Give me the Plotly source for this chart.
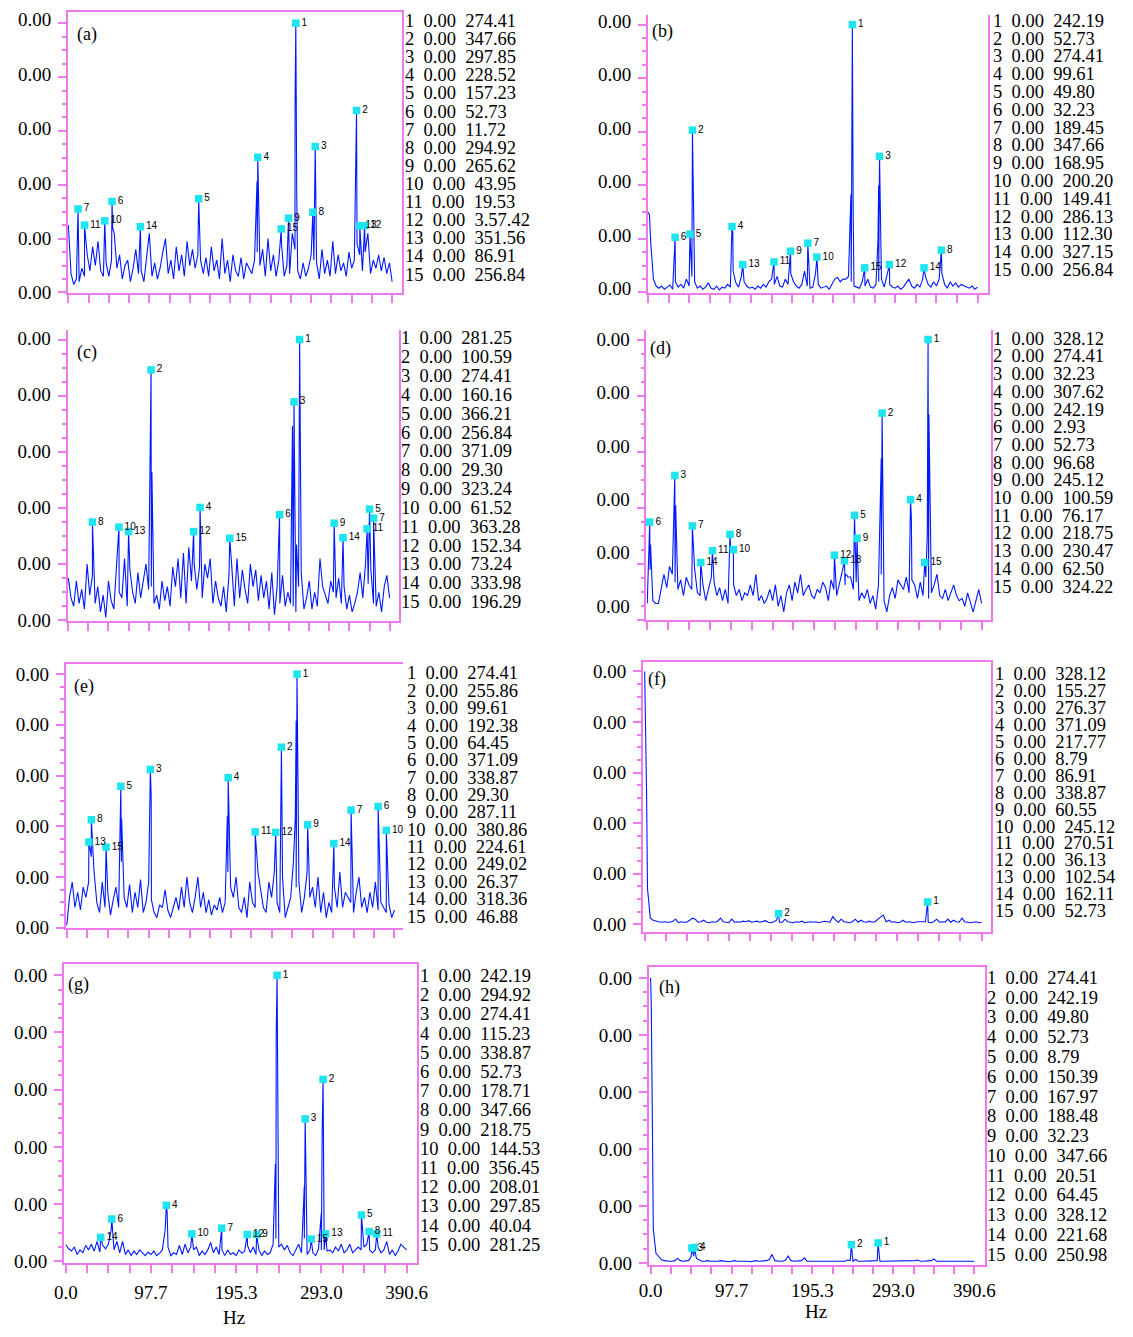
import numpy as np
import plotly.graph_objects as go

# ---------------- data ----------------
FMAX = 390.6
BIN_HZ = np.linspace(0.0, FMAX, 121)          # frequency bins of the noise floor
X_TICK_HZ = np.linspace(0.0, FMAX, 17)
X_TICK_TEXT = ["0.0", "", "", "", "97.7", "", "", "", "195.3", "", "", "", "293.0", "", "", "", "390.6"]
Y_TICK_TEXT = ["0.00"] * 6
TABLE_AMP = "0.00"

# noise floors (amplitude in hundredths of one y-tick step)
A_NOISE = [125,35,15,25,20,45,30,70,40,85, 50,95,40,30,55,30,60,110,45,70,
           25,50,60,20,45,80,35,40,20,60, 110,30,55,25,45,75,100,35,60,25,
           85,40,70,30,95,50,80,45,70,60, 35,65,30,85,40,60,25,100,35,60,
           20,70,40,30,65,25,55,45,35,60, 75,50,80,30,100,40,70,30,60,90,
           30,50,35,110,80,40,25,55,30,45, 70,60,55,25,80,35,60,30,95,35,
           70,40,55,30,75,45,60,90,70,40, 75,110,35,60,45,70,40,65,35,55, 20]
B_NOISE = [150,95,25,12,8,12,6,10,14,6, 20,10,15,8,25,12,30,20,8,12,
           6,10,18,8,6,12,5,10,8,15, 10,40,18,10,30,20,12,8,10,6,
           12,8,15,10,20,25,15,30,12,10, 25,15,35,20,12,8,15,40,12,8,
           10,35,15,8,10,12,6,15,25,28, 20,25,25,30,20,12,10,8,20,12,
           25,10,8,15,20,25,10,35,15,10, 8,12,6,10,18,25,12,8,15,10,
           25,30,15,10,20,12,25,35,15,8, 20,12,18,10,15,12,10,8,12,6, 10]
C_NOISE = [75,40,25,70,30,55,20,100,45,80, 30,60,15,45,5,70,35,20,95,50,
           40,110,25,90,50,30,85,40,70,100, 55,60,30,45,20,70,35,60,25,95,
           60,110,40,120,30,130,70,100,55,95, 40,100,75,110,30,70,40,25,60,15,
           80,100,25,110,40,90,55,30,100,60, 90,35,80,40,70,20,85,10,60,30,
           80,25,50,30,25,15,60,85,20,40, 70,20,50,25,110,60,45,30,70,50,
           40,75,30,60,20,45,15,30,50,85, 40,100,65,90,30,25,50,15,60,80, 40]
D_NOISE = [30,90,35,30,30,55,82,58,96,82, 68,55,72,44,77,63,55,92,49,44,
           63,35,55,77,68,44,58,35,55,30, 120,63,44,55,35,49,44,63,44,82,
           35,44,30,39,55,35,63,25,44,15, 49,63,35,68,49,82,44,55,63,44,
           39,55,49,68,58,35,72,55,44,63, 87,63,77,77,55,68,35,49,39,55,
           30,44,20,63,82,35,15,44,58,39, 72,63,55,77,49,72,63,39,68,44,
           77,39,49,63,82,44,39,55,35,49, 63,44,35,39,25,49,30,15,35,55, 30]
E_NOISE = [5,60,90,40,70,35,80,60,90,140, 110,50,30,90,40,70,25,55,80,40,
           130,60,40,85,30,70,40,95,30,50, 90,55,30,20,45,40,75,35,20,40,
           60,35,80,40,100,50,30,60,100,40, 70,30,55,25,45,35,60,30,50,110,
           80,60,100,40,30,60,20,90,50,40, 110,70,40,30,90,60,110,50,30,100,
           20,40,60,130,80,90,30,60,110,60, 80,40,100,30,70,20,50,30,80,40,
           110,40,70,60,50,30,70,100,40,60, 30,70,40,90,35,50,40,30,45,20, 35]
F_NOISE = [500,70,12,8,6,5,4,5,4,4, 6,10,3,5,4,4,8,12,10,4,
           5,8,4,3,5,4,6,12,5,4, 3,10,4,5,4,6,5,7,4,5,
           6,4,5,7,4,3,5,8,4,4, 10,5,4,3,5,4,6,3,4,5,
           4,5,3,4,6,5,4,15,8,4, 10,5,4,3,5,10,4,8,5,4,
           6,4,5,10,14,18,5,8,4,5, 3,4,8,4,5,4,3,5,5,4,
           5,4,3,5,10,4,5,4,10,4, 8,5,4,12,5,4,3,4,5,3, 4]
G_NOISE = [29,22,18,25,12,20,15,28,20,30, 18,35,16,28,22,30,55,20,35,15,
           35,12,20,10,18,12,20,15,10,16, 12,18,10,14,20,55,25,10,15,12,
           28,12,30,15,25,20,25,10,18,12, 20,33,15,25,12,20,10,20,12,15,
           10,20,14,18,28,15,25,12,20,10, 18,12,15,30,40,25,30,20,28,15,
           10,20,30,15,40,12,20,15,10,22, 20,20,18,20,15,25,18,30,15,20,
           30,15,20,25,20,25,30,20,15,20, 25,15,20,35,12,20,10,18,30,25, 20]
H_NOISE = [500,60,17,12,6,4,3,3,3,4, 8,4,3,3,4,10,12,8,6,3,
           3,4,3,3,2,3,4,3,3,2, 3,4,3,3,4,3,3,2,3,4,
           3,3,3,4,6,15,4,3,3,3, 5,12,4,3,3,3,4,9,3,3,
           3,3,4,3,3,3,3,4,3,3, 3,3,3,5,4,3,6,3,3,3,
           3,3,3,3,4,3,3,3,3,3, 3,3,3,3,3,3,3,3,4,5,
           3,3,3,3,4,7,3,3,3,3, 3,3,3,3,3,3,4,3,3,3, 3]

# marked peaks (id, Hz, amplitude in y-tick steps)
A_PEAK_ID = list(range(1, 16))
A_PEAK_HZ = [274.41, 347.66, 297.85, 228.52, 157.23, 52.73, 11.72, 294.92, 265.62, 43.95, 19.53, 357.42, 351.56, 86.91, 256.84]
A_PEAK_AMP = [5.0, 3.38, 2.71, 2.51, 1.74, 1.69, 1.55, 1.49, 1.38, 1.33, 1.25, 1.24, 1.24, 1.22, 1.18]
B_PEAK_ID = list(range(1, 16))
B_PEAK_HZ = [242.19, 52.73, 274.41, 99.61, 49.80, 32.23, 189.45, 347.66, 168.95, 200.20, 149.41, 286.13, 112.30, 327.15, 256.84]
B_PEAK_AMP = [5.0, 3.03, 2.54, 1.23, 1.09, 1.03, 0.92, 0.79, 0.77, 0.66, 0.57, 0.52, 0.52, 0.46, 0.46]
C_PEAK_ID = list(range(1, 16))
C_PEAK_HZ = [281.25, 100.59, 274.41, 160.16, 366.21, 256.84, 371.09, 29.30, 323.24, 61.52, 363.28, 152.34, 73.24, 333.98, 196.29]
C_PEAK_AMP = [5.0, 4.46, 3.89, 2.01, 1.98, 1.88, 1.82, 1.75, 1.73, 1.66, 1.63, 1.58, 1.58, 1.47, 1.46]
D_PEAK_ID = list(range(1, 16))
D_PEAK_HZ = [328.12, 274.41, 32.23, 307.62, 242.19, 2.93, 52.73, 96.68, 245.12, 100.59, 76.17, 218.75, 230.47, 62.50, 324.22]
D_PEAK_AMP = [5.0, 3.69, 2.58, 2.15, 1.87, 1.75, 1.68, 1.53, 1.46, 1.26, 1.24, 1.16, 1.06, 1.03, 1.03]
E_PEAK_ID = list(range(1, 16))
E_PEAK_HZ = [274.41, 255.86, 99.61, 192.38, 64.45, 371.09, 338.87, 29.30, 287.11, 380.86, 224.61, 249.02, 26.37, 318.36, 46.88]
E_PEAK_AMP = [5.0, 3.56, 3.12, 2.96, 2.79, 2.39, 2.32, 2.13, 2.03, 1.92, 1.89, 1.88, 1.69, 1.66, 1.59]
F_PEAK_ID = [1, 2]
F_PEAK_HZ = [328.12, 155.27]
F_PEAK_AMP = [0.44, 0.21]
G_PEAK_ID = list(range(1, 16))
G_PEAK_HZ = [242.19, 294.92, 274.41, 115.23, 338.87, 52.73, 178.71, 347.66, 218.75, 144.53, 356.45, 208.01, 297.85, 40.04, 281.25]
G_PEAK_AMP = [5.0, 3.18, 2.49, 0.98, 0.81, 0.74, 0.58, 0.52, 0.47, 0.48, 0.48, 0.47, 0.48, 0.42, 0.39]
H_PEAK_ID = [1, 2, 3, 4]
H_PEAK_HZ = [274.41, 242.19, 49.80, 52.73]
H_PEAK_AMP = [0.35, 0.32, 0.26, 0.27]

# unlabelled neighbouring bins (peak shoulders)
A_SIDE_HZ = [53.5, 157.8, 227.6, 273.5, 275.5, 297.0, 346.7]
A_SIDE_AMP = [1.20, 1.37, 2.06, 3.50, 1.87, 1.65, 2.32]
B_SIDE_HZ = [1.8, 53.7, 100.6, 240.5, 241.3, 243.2, 272.5, 273.4]
B_SIDE_AMP = [1.45, 1.90, 1.10, 1.83, 4.09, 1.45, 0.95, 2.00]
C_SIDE_HZ = [101.6, 272.5, 277.5, 282.3]
C_SIDE_AMP = [2.64, 3.46, 1.35, 2.96]
D_SIDE_HZ = [3.9, 33.2, 231.5, 233.5, 273.4, 308.6, 327.2, 329.1]
D_SIDE_AMP = [1.35, 2.05, 0.82, 0.80, 2.88, 1.83, 1.53, 3.67]
E_SIDE_HZ = [65.4, 100.6, 191.4, 254.9, 272.4, 273.4, 275.4]
E_SIDE_AMP = [2.15, 2.60, 2.20, 2.97, 2.19, 4.08, 2.21]
F_SIDE_HZ = [0.7, 2.2]
F_SIDE_AMP = [4.35, 2.56]
G_SIDE_HZ = [116.2, 240.2, 241.2, 243.2, 273.4, 292.9, 293.9]
G_SIDE_AMP = [0.85, 1.70, 3.95, 0.84, 1.32, 0.85, 2.28]
H_SIDE_HZ = [0.8, 1.9]
H_SIDE_AMP = [4.57, 2.89]

# peak tables printed beside each panel
A_TABLE = ["274.41", "347.66", "297.85", "228.52", "157.23", "52.73", "11.72", "294.92", "265.62", "43.95", "19.53", "3.57.42", "351.56", "86.91", "256.84"]
B_TABLE = ["242.19", "52.73", "274.41", "99.61", "49.80", "32.23", "189.45", "347.66", "168.95", "200.20", "149.41", "286.13", "112.30", "327.15", "256.84"]
C_TABLE = ["281.25", "100.59", "274.41", "160.16", "366.21", "256.84", "371.09", "29.30", "323.24", "61.52", "363.28", "152.34", "73.24", "333.98", "196.29"]
D_TABLE = ["328.12", "274.41", "32.23", "307.62", "242.19", "2.93", "52.73", "96.68", "245.12", "100.59", "76.17", "218.75", "230.47", "62.50", "324.22"]
E_TABLE = ["274.41", "255.86", "99.61", "192.38", "64.45", "371.09", "338.87", "29.30", "287.11", "380.86", "224.61", "249.02", "26.37", "318.36", "46.88"]
F_TABLE = ["328.12", "155.27", "276.37", "371.09", "217.77", "8.79", "86.91", "338.87", "60.55", "245.12", "270.51", "36.13", "102.54", "162.11", "52.73"]
G_TABLE = ["242.19", "294.92", "274.41", "115.23", "338.87", "52.73", "178.71", "347.66", "218.75", "144.53", "356.45", "208.01", "297.85", "40.04", "281.25"]
H_TABLE = ["274.41", "242.19", "49.80", "52.73", "8.79", "150.39", "167.97", "188.48", "32.23", "347.66", "20.51", "64.45", "328.12", "221.68", "250.98"]

# ---------------- style / layout ----------------
PAGE_W, PAGE_H = 1133, 1337
OFF = 8                       # default body margin of the html page
W, H = PAGE_W - 2 * OFF, PAGE_H - 2 * OFF
MAG = "#ee7aee"
BLUE = "#0018ff"
CYAN = "#1ee4f0"
SERIF = "Liberation Serif, Times New Roman, serif"
SANS = "Liberation Sans, Arial, sans-serif"


def px(xp):
    return (xp - OFF) / W


def py(yp):
    return 1 - (yp - OFF) / H


PANELS = [
    dict(tag="(a)", noise=A_NOISE, pid=A_PEAK_ID, phz=A_PEAK_HZ, pamp=A_PEAK_AMP, shz=A_SIDE_HZ, samp=A_SIDE_AMP, table=A_TABLE,
         box=(59, 399, 8, 292), x0=59.3, x390=389.3, yz=291.7, yt=19.3, lz=291.7, lt=15.5, top=True, right=True,
         letter=(78, 31), tab=(400, 17, 18.33), xlab=False, stand=6, hz=None),
    dict(tag="(b)", noise=B_NOISE, pid=B_PEAK_ID, phz=B_PEAK_HZ, pamp=B_PEAK_AMP, shz=B_SIDE_HZ, samp=B_SIDE_AMP, table=B_TABLE,
         box=(650, 997, 11, 292), x0=650, x390=986, yz=291.7, yt=20.7, lz=288, lt=17, top=False, right=True,
         letter=(665, 28), tab=(1000, 17, 18.0), xlab=False, stand=6, hz=None),
    dict(tag="(c)", noise=C_NOISE, pid=C_PEAK_ID, phz=C_PEAK_HZ, pamp=C_PEAK_AMP, shz=C_SIDE_HZ, samp=C_SIDE_AMP, table=C_TABLE,
         box=(58.5, 396, 330, 624), x0=59.3, x390=386.7, yz=623.3, yt=339.3, lz=623, lt=338, top=False, right=True,
         letter=(78, 352), tab=(396, 338, 19.07), xlab=False, stand=6, hz=None),
    dict(tag="(d)", noise=D_NOISE, pid=D_PEAK_ID, phz=D_PEAK_HZ, pamp=D_PEAK_AMP, shz=D_SIDE_HZ, samp=D_SIDE_AMP, table=D_TABLE,
         box=(648.5, 999.3, 330, 623.3), x0=649.3, x390=990, yz=623.3, yt=339.3, lz=609, lt=339, top=False, right=True,
         letter=(663, 348), tab=(1000, 338.5, 17.9), xlab=False, stand=6, hz=None),
    dict(tag="(e)", noise=E_NOISE, pid=E_PEAK_ID, phz=E_PEAK_HZ, pamp=E_PEAK_AMP, shz=E_SIDE_HZ, samp=E_SIDE_AMP, table=E_TABLE,
         box=(56.7, 400, 667.7, 934.3), x0=57.7, x390=391.7, yz=934.3, yt=677.7, lz=934.3, lt=677.7, top=True, right=False,
         letter=(75, 690), tab=(402, 677, 17.57), xlab=False, stand=6, hz=None),
    dict(tag="(f)", noise=F_NOISE, pid=F_PEAK_ID, phz=F_PEAK_HZ, pamp=F_PEAK_AMP, shz=F_SIDE_HZ, samp=F_SIDE_AMP, table=F_TABLE,
         box=(645, 999.3, 665, 938.3), x0=646.7, x390=990, yz=930.7, yt=675, lz=930.7, lt=675, top=True, right=True,
         letter=(659, 683), tab=(1002, 678, 17.1), xlab=False, stand=6, hz=None),
    dict(tag="(g)", noise=G_NOISE, pid=G_PEAK_ID, phz=G_PEAK_HZ, pamp=G_PEAK_AMP, shz=G_SIDE_HZ, samp=G_SIDE_AMP, table=G_TABLE,
         box=(55, 414.3, 970.7, 1273.3), x0=56.7, x390=404, yz=1271.7, yt=982.3, lz=1271.7, lt=982.3, top=True, right=True,
         letter=(70, 992), tab=(416, 983, 19.43), xlab=True, stand=4, hz=(227.7, 1328)),
    dict(tag="(h)", noise=H_NOISE, pid=H_PEAK_ID, phz=H_PEAK_HZ, pamp=H_PEAK_AMP, shz=H_SIDE_HZ, samp=H_SIDE_AMP, table=H_TABLE,
         box=(651, 993.3, 974, 1275), x0=652.7, x390=982.7, yz=1273.3, yt=985, lz=1273.3, lt=985, top=True, right=True,
         letter=(671.5, 995), tab=(994, 985, 20.0), xlab=True, stand=0, hz=(821, 1322)),
]

fig = go.Figure()
layout = {}
annotations = []

for k, p in enumerate(PANELS, start=1):
    sfx = "" if k == 1 else str(k)
    xa, ya = "x" + sfx, "y" + sfx
    lab_idx = k + 8
    la = "y" + str(lab_idx)
    L, R, T, B = p["box"]
    kx = (p["x390"] - p["x0"]) / FMAX
    xr = [-(p["x0"] - L) / kx, (R - p["x0"]) / kx]
    ky = (p["yz"] - p["yt"]) / 5.0
    yr = [-(B - p["yz"]) / ky, (p["yz"] - T) / ky]
    kl = (p["lz"] - p["lt"]) / 5.0
    lr = [-(B - p["lz"]) / kl, (p["lz"] - T) / kl]
    dom_x = [px(L), px(R)]
    dom_y = [py(B), py(T)]

    hz = np.concatenate([BIN_HZ, np.array(p["phz"], float), np.array(p["shz"], float)])
    amp = np.concatenate([np.array(p["noise"], float) / 100.0, np.array(p["pamp"], float), np.array(p["samp"], float)])
    order = np.argsort(hz, kind="stable")

    fig.add_trace(go.Scatter(x=hz[order], y=amp[order], mode="lines",
                             line=dict(color=BLUE, width=1.1), xaxis=xa, yaxis=ya, hoverinfo="skip"))
    fig.add_trace(go.Scatter(x=p["phz"], y=p["pamp"], mode="markers+text",
                             text=[str(i) for i in p["pid"]], textposition="middle right",
                             marker=dict(symbol="square", size=7.5, color=CYAN),
                             textfont=dict(family=SANS, size=10, color="black"),
                             xaxis=xa, yaxis=ya, cliponaxis=False))
    fig.add_trace(go.Scatter(x=[0], y=[0], mode="markers", marker=dict(opacity=0),
                             xaxis=xa, yaxis=la, hoverinfo="skip"))

    layout["xaxis" + sfx] = dict(domain=dom_x, range=xr, anchor=ya, showline=True, linecolor=MAG, linewidth=1.5,
                                 mirror=p["top"], ticks="outside", tickmode="array", tickvals=X_TICK_HZ,
                                 ticktext=X_TICK_TEXT, ticklen=8, tickwidth=1.5, tickcolor=MAG,
                                 showticklabels=p["xlab"], tickfont=dict(family=SERIF, size=19, color="black"),
                                 ticklabelstandoff=p["stand"], showgrid=False, zeroline=False, fixedrange=True)
    layout["yaxis" + sfx] = dict(domain=dom_y, range=yr, anchor=xa, showline=True, linecolor=MAG, linewidth=1.5,
                                 mirror=p["right"], ticks="outside", tickmode="linear", tick0=0, dtick=1,
                                 ticklen=8, tickwidth=1.5, tickcolor=MAG, showticklabels=False,
                                 minor=dict(ticks="outside", tickmode="linear", tick0=0, dtick=0.25, ticklen=4,
                                            tickcolor=MAG, tickwidth=1.5),
                                 showgrid=False, zeroline=False, fixedrange=True)
    layout["yaxis" + str(lab_idx)] = dict(overlaying=ya, anchor=xa, side="left", range=lr,
                                          tickmode="array", tickvals=[0, 1, 2, 3, 4, 5], ticktext=Y_TICK_TEXT,
                                          ticks="outside", ticklen=12, tickcolor="rgba(0,0,0,0)",
                                          showline=False, showgrid=False, zeroline=False, fixedrange=True,
                                          tickfont=dict(family=SERIF, size=19, color="black"))

    annotations.append(dict(text=p["tag"], x=px(p["letter"][0]), y=py(p["letter"][1]), xref="paper", yref="paper",
                            xanchor="center", yanchor="middle", showarrow=False,
                            font=dict(family=SERIF, size=18, color="black")))
    tx, ty0, tdy = p["tab"]
    for i, fstr in enumerate(p["table"]):
        annotations.append(dict(text=f"{i + 1}\u00a0\u00a0{TABLE_AMP}\u00a0\u00a0{fstr}",
                                x=px(tx), y=py(ty0 + i * tdy), xref="paper", yref="paper",
                                xanchor="left", yanchor="middle", showarrow=False,
                                font=dict(family=SERIF, size=18.5, color="black")))
    if p["hz"] is not None:
        annotations.append(dict(text="Hz", x=px(p["hz"][0]), y=py(p["hz"][1]), xref="paper", yref="paper",
                                xanchor="center", yanchor="middle", showarrow=False,
                                font=dict(family=SERIF, size=19, color="black")))

fig.update_layout(**layout)
fig.update_layout(width=W, height=H, margin=dict(l=0, r=0, t=0, b=0, pad=0),
                  paper_bgcolor="white", plot_bgcolor="white", showlegend=False,
                  annotations=annotations)

fig.write_html("out.html", config={"displayModeBar": False})
